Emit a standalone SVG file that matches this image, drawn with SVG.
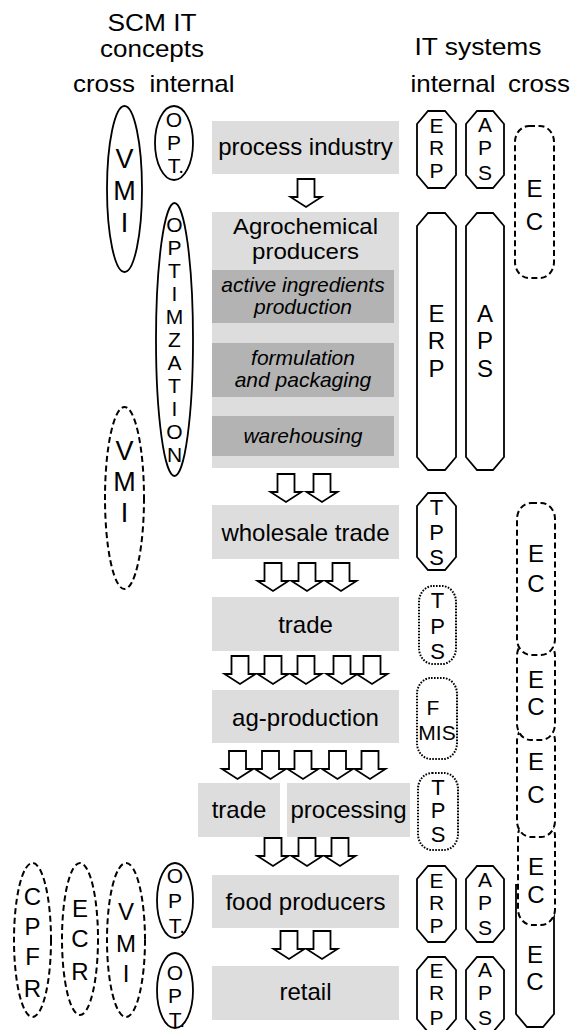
<svg xmlns="http://www.w3.org/2000/svg" width="571" height="1030" viewBox="0 0 571 1030">
<style>
text{font-family:"Liberation Sans",Arial,sans-serif;fill:#000;text-anchor:middle}
.h{font-size:24px}
.b{font-size:24px}
.b2{font-size:22px}
.i{font-size:21px;font-style:italic}
.v{font-size:21px}
.vb{font-size:27px}
.vl{font-size:24px}
.vt{font-size:22px}
.lt{fill:#dddddd}
.dk{fill:#b3b3b3}
.sol{fill:#fff;stroke:#000;stroke-width:1.8}
.dsh{fill:#fff;stroke:#000;stroke-width:2;stroke-dasharray:6 3.5}
.dot{fill:#fff;stroke:#000;stroke-width:2;stroke-dasharray:1.6 1.4}
.arr{fill:#fff;stroke:#000;stroke-width:1.8;stroke-linejoin:miter}
</style>
<defs>
<path id="ar" class="arr" d="M-8.5,0 H8.5 V18 H15.5 L0,28 L-15.5,18 H-8.5 Z"/>
</defs>
<rect width="571" height="1030" fill="#fff"/>

<g id="headers">
<text class="h" x="152" y="31" textLength="89" lengthAdjust="spacingAndGlyphs">SCM IT</text>
<text class="h" x="152" y="57" textLength="104" lengthAdjust="spacingAndGlyphs">concepts</text>
<text class="h" x="104" y="92" textLength="62" lengthAdjust="spacingAndGlyphs">cross</text>
<text class="h" x="192" y="92" textLength="85" lengthAdjust="spacingAndGlyphs">internal</text>
<text class="h" x="478" y="55" textLength="127" lengthAdjust="spacingAndGlyphs">IT systems</text>
<text class="h" x="453" y="92" textLength="85" lengthAdjust="spacingAndGlyphs">internal</text>
<text class="h" x="539" y="92" textLength="62" lengthAdjust="spacingAndGlyphs">cross</text>
</g>

<g id="process-industry">
<rect class="lt" x="212" y="121" width="187" height="53"/>
<text class="b" x="305.5" y="155">process industry</text>
</g>
<g id="agrochemical-producers">
<rect class="lt" x="212" y="212" width="187" height="256"/>
<text class="b2" x="305.5" y="234" textLength="145" lengthAdjust="spacingAndGlyphs">Agrochemical</text>
<text class="b2" x="305.5" y="259" textLength="107" lengthAdjust="spacingAndGlyphs">producers</text>
<rect class="dk" x="212" y="270" width="182" height="53"/>
<text class="i" x="303" y="292">active ingredients</text>
<text class="i" x="303" y="314">production</text>
<rect class="dk" x="212" y="343" width="182" height="54"/>
<text class="i" x="303" y="365">formulation</text>
<text class="i" x="303" y="387">and packaging</text>
<rect class="dk" x="212" y="416" width="182" height="40"/>
<text class="i" x="303" y="443">warehousing</text>
</g>
<g id="wholesale-trade">
<rect class="lt" x="212" y="505" width="187" height="54"/>
<text class="b" x="305.5" y="541">wholesale trade</text>
</g>
<g id="trade">
<rect class="lt" x="212" y="597" width="187" height="54"/>
<text class="b" x="305.5" y="633">trade</text>
</g>
<g id="ag-production">
<rect class="lt" x="212" y="690" width="187" height="53"/>
<text class="b" x="305.5" y="726">ag-production</text>
</g>
<g id="trade2">
<rect class="lt" x="198" y="783" width="82" height="54"/>
<text class="b" x="239" y="818">trade</text>
</g>
<g id="processing">
<rect class="lt" x="287" y="783" width="123" height="54"/>
<text class="b" x="348.5" y="818">processing</text>
</g>
<g id="food-producers">
<rect class="lt" x="212" y="875" width="187" height="53"/>
<text class="b" x="305.5" y="910">food producers</text>
</g>
<g id="retail">
<rect class="lt" x="212" y="966" width="187" height="54"/>
<text class="b" x="305.5" y="1000">retail</text>
</g>

<g id="connectors">
<use href="#ar" x="306" y="179"/>
<use href="#ar" x="286" y="474"/><use href="#ar" x="322" y="474"/>
<use href="#ar" x="273" y="563"/><use href="#ar" x="307" y="563"/><use href="#ar" x="341" y="563"/>
<use href="#ar" x="240" y="656"/><use href="#ar" x="273" y="656"/><use href="#ar" x="306" y="656"/><use href="#ar" x="342" y="656"/><use href="#ar" x="372" y="656"/>
<use href="#ar" x="237.5" y="751"/><use href="#ar" x="270.5" y="751"/><use href="#ar" x="303" y="751"/><use href="#ar" x="337.5" y="751"/><use href="#ar" x="370" y="751"/>
<use href="#ar" x="273" y="838"/><use href="#ar" x="307" y="838"/><use href="#ar" x="340" y="838"/>
<use href="#ar" x="289" y="931"/><use href="#ar" x="322" y="931"/>
</g>

<!-- SCM IT concepts -->
<g id="vmi-top">
<ellipse class="sol" cx="124.5" cy="189" rx="17.5" ry="83"/>
<text class="vb" x="124.5" y="168">V</text><text class="vb" x="124.5" y="200">M</text><text class="vb" x="124.5" y="232">I</text>
</g>
<g id="opt-top">
<ellipse class="sol" cx="174" cy="143" rx="19" ry="37"/>
<text class="v" x="174" y="127">O</text><text class="v" x="174" y="150">P</text><text class="v" x="176" y="173">T.</text>
</g>
<g id="optimization">
<ellipse class="sol" cx="174.5" cy="339.5" rx="18.5" ry="136.5"/>
<text class="v" x="174.5" y="232">O</text><text class="v" x="174.5" y="255">P</text><text class="v" x="174.5" y="278">T</text><text class="v" x="174.5" y="301">I</text><text class="v" x="174.5" y="324">M</text><text class="v" x="174.5" y="347">Z</text><text class="v" x="174.5" y="370">A</text><text class="v" x="174.5" y="393">T</text><text class="v" x="174.5" y="416">I</text><text class="v" x="174.5" y="439">O</text><text class="v" x="174.5" y="462">N</text>
</g>
<g id="vmi-dashed">
<ellipse class="dsh" cx="124.5" cy="498" rx="19.5" ry="91"/>
<text class="vb" x="124.5" y="460">V</text><text class="vb" x="124.5" y="491">M</text><text class="vb" x="124.5" y="522">I</text>
</g>
<g id="cpfr">
<ellipse class="dsh" cx="32.5" cy="940" rx="18.5" ry="77"/>
<text class="vl" x="32.5" y="905">C</text><text class="vl" x="32.5" y="935">P</text><text class="vl" x="32.5" y="965">F</text><text class="vl" x="32.5" y="997">R</text>
</g>
<g id="ecr">
<ellipse class="dsh" cx="80" cy="939" rx="18" ry="76"/>
<text class="vl" x="80" y="917">E</text><text class="vl" x="80" y="947">C</text><text class="vl" x="80" y="980">R</text>
</g>
<g id="vmi-bottom">
<ellipse class="dsh" cx="126" cy="940" rx="19" ry="77"/>
<text class="vl" x="126" y="920">V</text><text class="vl" x="126" y="952">M</text><text class="vl" x="126" y="982">I</text>
</g>
<g id="opt-food">
<ellipse class="sol" cx="175" cy="900.5" rx="18" ry="37.5"/>
<text class="v" x="175" y="883">O</text><text class="v" x="175" y="908">P</text><text class="v" x="177" y="933">T.</text>
</g>
<g id="opt-retail">
<ellipse class="sol" cx="175" cy="990.5" rx="18" ry="37.5"/>
<text class="v" x="175" y="980">O</text><text class="v" x="175" y="1003">P</text><text class="v" x="177" y="1027">T.</text>
</g>

<!-- IT systems -->
<g id="erp-top">
<path class="sol" d="M428,111 H445 L456,124 V175 L445,188 H428 L417,175 V124 Z"/>
<text class="v" x="436.5" y="133">E</text><text class="v" x="436.5" y="155">R</text><text class="v" x="436.5" y="178">P</text>
</g>
<g id="aps-top">
<path class="sol" d="M477,111 H493 L504,124 V175 L493,188 H477 L466,175 V124 Z"/>
<text class="v" x="485" y="132">A</text><text class="v" x="485" y="155">P</text><text class="v" x="485" y="180">S</text>
</g>
<g id="erp-agro">
<path class="sol" d="M428,213 H445 L456,226 V457 L445,470 H428 L417,457 V226 Z"/>
<text class="vl" x="436.5" y="322">E</text><text class="vl" x="436.5" y="349">R</text><text class="vl" x="436.5" y="377">P</text>
</g>
<g id="aps-agro">
<path class="sol" d="M477,213 H493 L504,226 V457 L493,470 H477 L466,457 V226 Z"/>
<text class="vl" x="485" y="322">A</text><text class="vl" x="485" y="349">P</text><text class="vl" x="485" y="377">S</text>
</g>
<g id="tps-wholesale">
<path class="sol" d="M428,493 H445 L456,506 V557 L445,570 H428 L417,557 V506 Z"/>
<text class="vt" x="436.5" y="515">T</text><text class="vt" x="436.5" y="540">P</text><text class="vt" x="436.5" y="565">S</text>
</g>
<g id="tps-trade">
<rect class="dot" x="419" y="586" width="37" height="78" rx="14" ry="16"/>
<text class="vt" x="437.5" y="608">T</text><text class="vt" x="437.5" y="634">P</text><text class="vt" x="437.5" y="659">S</text>
</g>
<g id="fmis">
<rect class="dot" x="417" y="678" width="40" height="81" rx="14" ry="16"/>
<text class="v" x="433" y="715">F</text><text class="v" x="437" y="740">MIS</text>
</g>
<g id="tps-processing">
<rect class="dot" x="418" y="773" width="40" height="77" rx="14" ry="16"/>
<text class="vt" x="438" y="795">T</text><text class="vt" x="438" y="818">P</text><text class="vt" x="438" y="842">S</text>
</g>
<g id="erp-food">
<path class="sol" d="M428,866 H445 L456,879 V929 L445,942 H428 L417,929 V879 Z"/>
<text class="v" x="436.5" y="888">E</text><text class="v" x="436.5" y="910">R</text><text class="v" x="436.5" y="933">P</text>
</g>
<g id="aps-food">
<path class="sol" d="M477,866 H493 L504,879 V929 L493,942 H477 L466,929 V879 Z"/>
<text class="v" x="485" y="887">A</text><text class="v" x="485" y="910">P</text><text class="v" x="485" y="935">S</text>
</g>
<g id="erp-retail">
<path class="sol" d="M428,957 H445 L456,970 V1019 L445,1032 H428 L417,1019 V970 Z"/>
<text class="v" x="436.5" y="978">E</text><text class="v" x="436.5" y="1000">R</text><text class="v" x="436.5" y="1025">P</text>
</g>
<g id="aps-retail">
<path class="sol" d="M477,957 H493 L504,970 V1019 L493,1032 H477 L466,1019 V970 Z"/>
<text class="v" x="485" y="977">A</text><text class="v" x="485" y="1000">P</text><text class="v" x="485" y="1025">S</text>
</g>

<g id="ec-top">
<rect class="dsh" x="515" y="126" width="39" height="152" rx="14" ry="16"/>
<text class="vl" x="534.5" y="197">E</text><text class="vl" x="534.5" y="230">C</text>
</g>
<g id="ec-retail">
<path class="sol" d="M516,885 H554 V1014 L543,1027 H527 L516,1014 Z"/>
<text class="vl" x="535" y="963">E</text><text class="vl" x="535" y="990">C</text>
</g>
<g id="ec-food">
<rect class="dsh" x="518" y="820" width="37" height="105" rx="14" ry="16"/>
<text class="vl" x="536" y="875">E</text><text class="vl" x="536" y="903">C</text>
</g>
<g id="ec-processing">
<rect class="dsh" x="517" y="725" width="38" height="112" rx="14" ry="16"/>
<text class="vl" x="536" y="770">E</text><text class="vl" x="536" y="803">C</text>
</g>
<g id="ec-ag">
<rect class="dsh" x="517" y="640" width="38" height="100" rx="14" ry="16"/>
<text class="vl" x="536" y="688">E</text><text class="vl" x="536" y="715">C</text>
</g>
<g id="ec-trade">
<rect class="dsh" x="517" y="503" width="38" height="152" rx="14" ry="16"/>
<text class="vl" x="536" y="562">E</text><text class="vl" x="536" y="592">C</text>
</g>
</svg>
